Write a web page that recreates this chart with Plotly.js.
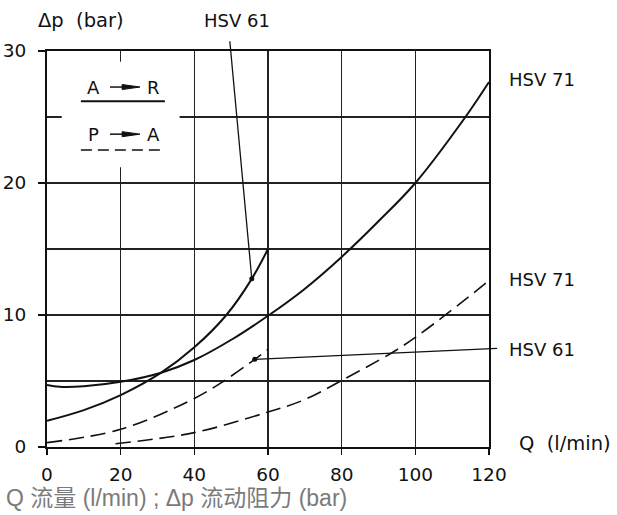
<!DOCTYPE html>
<html>
<head>
<meta charset="utf-8">
<script src="https://cdn.plot.ly/plotly-3.0.1.min.js"></script>
<style>html,body{margin:0;padding:0;background:#fff;}#chart{width:617px;height:515px;}</style>
</head>
<body>
<div id="chart"></div>
<script>
// ---- Data (Q in l/min, Δp in bar) ----
const Q_HSV61_AR = [0, 10, 20, 31, 40, 48.7, 55.5, 60];
const DP_HSV61_AR = [1.98, 2.79, 3.93, 5.63, 7.55, 10.0, 12.7, 15.0];

const Q_HSV71_AR = [0, 3.4, 10, 20, 31, 40, 50.5, 60, 69.6, 80, 90, 100, 113.6, 120];
const DP_HSV71_AR = [4.69, 4.56, 4.6, 4.94, 5.63, 6.59, 8.2, 9.94, 11.9, 14.4, 17.1, 20.0, 25.0, 27.65];

const Q_HSV61_PA = [0, 20, 40, 48, 56.4, 60];
const DP_HSV61_PA = [0.33, 1.34, 3.68, 5.0, 6.64, 7.4];

const Q_HSV71_PA = [18.6, 40, 60, 69.6, 80, 94, 100, 109.4, 120];
const DP_HSV71_PA = [0.25, 1.09, 2.65, 3.55, 5.04, 7.2, 8.3, 10.27, 12.6];

const CALLOUT_Q = [55.6, 56.4];
const CALLOUT_DP = [12.75, 6.64];

const X_TICKS = [0, 20, 40, 60, 80, 100, 120];
const Y_TICKS = [0, 10, 20, 30];

const SERIES_LABELS = ['HSV 61', 'HSV 71', 'HSV 61', 'HSV 71'];
const CAPTION = 'Q 流量 (l/min) ; Δp 流动阻力 (bar)';

// ---- Styles ----
const INK = '#111';
const FONT = 'DejaVu Sans, sans-serif';
const DASH = '15px,7px';

const solid = {color: INK, width: 2, shape: 'spline', smoothing: 1};
const dashed = {color: INK, width: 1.6, shape: 'spline', smoothing: 1, dash: DASH};

const traces = [
  {x: Q_HSV61_AR, y: DP_HSV61_AR, mode: 'lines', line: solid, name: SERIES_LABELS[0]},
  {x: Q_HSV71_AR, y: DP_HSV71_AR, mode: 'lines', line: solid, name: SERIES_LABELS[1]},
  {x: Q_HSV61_PA, y: DP_HSV61_PA, mode: 'lines', line: dashed, name: SERIES_LABELS[2]},
  {x: Q_HSV71_PA, y: DP_HSV71_PA, mode: 'lines', line: dashed, name: SERIES_LABELS[3]},
  {x: CALLOUT_Q, y: CALLOUT_DP, mode: 'markers', marker: {color: INK, size: 5}, cliponaxis: false}
];

// text placed in paper coordinates (outside the plotting area)
const ptxt = (text, x, y, extra) => Object.assign({
  text: text, x: x, y: y, xref: 'paper', yref: 'paper', showarrow: false,
  xanchor: 'left', yanchor: 'middle', font: {family: FONT, size: 18, color: INK}
}, extra || {});
const big = {font: {family: FONT, size: 19.5, color: INK}};

// text inside the plotting area, in data coordinates
const dtxt = (text, x, y) => ({
  text: text, x: x, y: y, xref: 'x', yref: 'y', showarrow: false,
  xanchor: 'center', yanchor: 'middle', font: {family: FONT, size: 18, color: INK}
});

const leader = (x, y, ax, ay) => ({
  text: '', x: x, y: y, xref: 'x', yref: 'y', axref: 'x', ayref: 'y', ax: ax, ay: ay,
  showarrow: true, arrowhead: 0, arrowwidth: 1.3, arrowcolor: INK, standoff: 0, startstandoff: 0
});

const annotations = [
  ptxt('Δp\u00a0\u00a0(bar)', -0.024, 1.078, big),
  ptxt(SERIES_LABELS[0], 0.351, 1.078),
  ptxt(SERIES_LABELS[1], 1.041, 0.927),
  ptxt(SERIES_LABELS[3], 1.041, 0.422),
  ptxt(SERIES_LABELS[2], 1.041, 0.247),
  ptxt('Q\u00a0\u00a0(l/min)', 1.064, 0.010, big),
  leader(CALLOUT_Q[0], CALLOUT_DP[0], 49.6, 30.85),
  leader(CALLOUT_Q[1], CALLOUT_DP[1], 122.6, 7.48),
  // legend box texts
  dtxt('A', 12.5, 27.27),
  dtxt('R', 29.0, 27.27),
  dtxt('P', 12.5, 23.7),
  dtxt('A', 29.0, 23.7),
  // caption
  ptxt(CAPTION, -0.097, -0.129, {font: {family: 'Liberation Sans, Noto Sans CJK SC, sans-serif', size: 23, color: '#7a7a7a'}})
];

const arrowShapes = (y) => [
  {type: 'line', xref: 'x', yref: 'y', x0: 17.1, x1: 21, y0: y, y1: y, line: {color: INK, width: 1.5}, layer: 'above'},
  {type: 'path', xref: 'x', yref: 'y', path: `M 20.4 ${y - 0.19} L 25.25 ${y} L 20.4 ${y + 0.19} Z`,
   fillcolor: INK, line: {color: INK, width: 1}, layer: 'above'}
];

const shapes = [
  {type: 'rect', xref: 'x', yref: 'y', x0: 4.0, x1: 36.0, y0: 21.2, y1: 29.18, fillcolor: '#fff', line: {width: 0}, layer: 'above'},
  {type: 'line', xref: 'x', yref: 'y', x0: 9.2, x1: 32.0, y0: 26.2, y1: 26.2, line: {color: INK, width: 2}, layer: 'above'},
  {type: 'line', xref: 'x', yref: 'y', x0: 9.2, x1: 32.0, y0: 22.5, y1: 22.5, line: {color: INK, width: 1.6, dash: '11px,6px'}, layer: 'above'}
].concat(arrowShapes(27.27), arrowShapes(23.7));

const layout = {
  width: 617, height: 515,
  margin: {l: 47, r: 128, t: 51, b: 68},
  paper_bgcolor: '#fff', plot_bgcolor: '#fff',
  showlegend: false,
  font: {family: FONT, size: 18, color: INK},
  xaxis: {
    range: [0, 120], tickvals: X_TICKS, ticktext: X_TICKS.map(String),
    showgrid: true, gridcolor: '#222', gridwidth: 1.3,
    showline: true, linecolor: INK, linewidth: 2, mirror: true,
    ticks: 'outside', ticklen: 6, tickwidth: 1.5, tickcolor: INK,
    ticklabelstandoff: 4,
    zeroline: false, fixedrange: true,
    tickfont: {family: FONT, size: 18.5, color: INK}
  },
  yaxis: {
    range: [0, 30], tickvals: Y_TICKS, ticktext: Y_TICKS.map(String),
    showgrid: true, gridcolor: '#222', gridwidth: 1.3,
    minor: {dtick: 5, tick0: 0, showgrid: true, gridcolor: '#222', gridwidth: 1.3, ticks: ''},
    showline: true, linecolor: INK, linewidth: 2, mirror: true,
    ticks: 'outside', ticklen: 7, tickwidth: 1.5, tickcolor: INK,
    ticklabelstandoff: 8,
    zeroline: false, fixedrange: true,
    tickfont: {family: FONT, size: 18.5, color: INK}
  },
  annotations: annotations,
  shapes: shapes
};

Plotly.newPlot('chart', traces, layout, {staticPlot: true, displayModeBar: false});
</script>
</body>
</html>
